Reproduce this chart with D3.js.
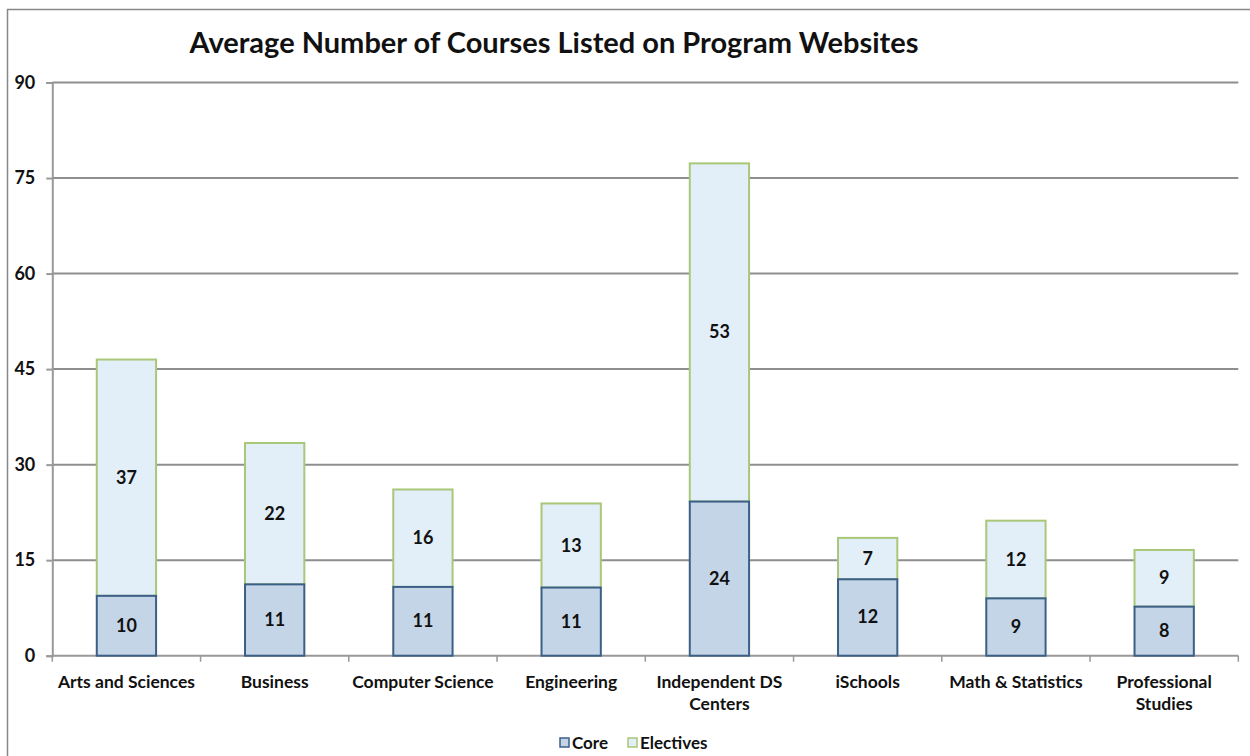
<!DOCTYPE html>
<html>
<head>
<meta charset="utf-8">
<script src="https://cdn.jsdelivr.net/npm/d3@7"></script>
<style>
  body { margin: 0; background: #fff; }
  text { font-family: Lato, "Open Sans", sans-serif; font-weight: bold; fill: #111; }
</style>
</head>
<body>
<div class="chart"></div>
<script>
var categories = ["Arts and Sciences", "Business", "Computer Science", "Engineering",
  "Independent DS Centers", "iSchools", "Math & Statistics", "Professional Studies"];
var coreValues = [9.4, 11.2, 10.8, 10.7, 24.2, 12.0, 9.0, 7.7];
var electiveValues = [37.1, 22.2, 15.3, 13.2, 53.1, 6.5, 12.2, 8.9];
var coreLabels = ["10", "11", "11", "11", "24", "12", "9", "8"];
var electiveLabels = ["37", "22", "16", "13", "53", "7", "12", "9"];
var yTicks = [0, 15, 30, 45, 60, 75, 90];

var svgWidth = 1250;
var svgHeight = 756;
var margin = { top: 82.5, right: 12, bottom: 100, left: 52.3 };
var width = 1238.3 - margin.left;
var height = 655.7 - margin.top;

var svg = d3.select(".chart")
  .append("svg")
  .attr("width", svgWidth)
  .attr("height", svgHeight);

// outer frame
svg.append("rect")
  .attr("x", 7.5).attr("y", 9.5)
  .attr("width", 1260).attr("height", 760)
  .attr("fill", "none")
  .attr("stroke", "#888")
  .attr("stroke-width", 1.5);

svg.append("text")
  .attr("x", 554)
  .attr("y", 53)
  .attr("text-anchor", "middle")
  .attr("font-size", 29)
  .text("Average Number of Courses Listed on Program Websites");

var chartGroup = svg.append("g")
  .attr("transform", `translate(${margin.left}, ${margin.top})`);

var yScale = d3.scaleLinear().domain([0, 90]).range([height, 0]);

var xBand = d3.scaleBand().domain(categories).range([0, width]).padding(0);
var xBar = d3.scaleBand().domain(categories).range([0, width])
  .paddingInner(0.6).paddingOuter(0.3);

// gridlines
chartGroup.append("g")
  .selectAll("line")
  .data(yTicks.filter(d => d > 0))
  .enter()
  .append("line")
  .attr("x1", 0)
  .attr("x2", width)
  .attr("y1", d => yScale(d))
  .attr("y2", d => yScale(d))
  .attr("stroke", "#8e8e8e")
  .attr("stroke-width", 2);

// y axis
var leftAxis = d3.axisLeft(yScale).tickValues(yTicks).tickSize(6).tickPadding(12);
var yAxisG = chartGroup.append("g").call(leftAxis);
yAxisG.select(".domain").attr("stroke", "#999").attr("stroke-width", 2);
yAxisG.selectAll(".tick line").attr("stroke", "#999").attr("stroke-width", 2);
yAxisG.selectAll(".tick text")
  .attr("font-size", 18)
  .attr("font-family", "Lato, sans-serif")
  .attr("fill", "#111")
  .attr("x", -17);

// x axis with ticks at band edges
var xAxisG = chartGroup.append("g").attr("transform", `translate(0, ${height})`);
xAxisG.append("line")
  .attr("x1", 0).attr("x2", width)
  .attr("stroke", "#999").attr("stroke-width", 2);
xAxisG.selectAll(".edge")
  .data(categories.concat(["end"]))
  .enter()
  .append("line")
  .attr("x1", (d, i) => i < categories.length ? xBand(d) : width)
  .attr("x2", (d, i) => i < categories.length ? xBand(d) : width)
  .attr("y1", 0).attr("y2", 6)
  .attr("stroke", "#999").attr("stroke-width", 1.5);

var catText = xAxisG.selectAll(".cat")
  .data(categories)
  .enter()
  .append("text")
  .attr("text-anchor", "middle")
  .attr("font-size", 17.5)
  .attr("y", 32);
catText.each(function(d) {
  var lines = d === "Independent DS Centers" ? ["Independent DS", "Centers"]
    : d === "Professional Studies" ? ["Professional", "Studies"] : [d];
  var t = d3.select(this);
  lines.forEach(function(l, i) {
    t.append("tspan")
      .attr("x", xBand(d) + xBand.bandwidth() / 2)
      .attr("dy", i === 0 ? 0 : 22)
      .text(l);
  });
});

// stacked bars
var bars = chartGroup.selectAll(".bar")
  .data(categories)
  .enter()
  .append("g");

bars.append("rect")
  .attr("x", d => xBar(d))
  .attr("width", xBar.bandwidth())
  .attr("y", (d, i) => yScale(coreValues[i] + electiveValues[i]))
  .attr("height", (d, i) => yScale(coreValues[i]) - yScale(coreValues[i] + electiveValues[i]))
  .attr("fill", "#e2eff9")
  .attr("stroke", "#a8c878")
  .attr("stroke-width", 2);

bars.append("rect")
  .attr("x", d => xBar(d))
  .attr("width", xBar.bandwidth())
  .attr("y", (d, i) => yScale(coreValues[i]))
  .attr("height", (d, i) => yScale(0) - yScale(coreValues[i]))
  .attr("fill", "#c4d5e8")
  .attr("stroke", "#3c5f86")
  .attr("stroke-width", 2);

bars.append("text")
  .attr("x", d => xBar(d) + xBar.bandwidth() / 2)
  .attr("y", (d, i) => yScale(coreValues[i] / 2) + 6)
  .attr("text-anchor", "middle")
  .attr("font-size", 18)
  .text((d, i) => coreLabels[i]);

bars.append("text")
  .attr("x", d => xBar(d) + xBar.bandwidth() / 2)
  .attr("y", (d, i) => yScale(coreValues[i] + electiveValues[i] / 2) + 6)
  .attr("text-anchor", "middle")
  .attr("font-size", 18)
  .text((d, i) => electiveLabels[i]);

// legend
var legend = svg.append("g").attr("transform", "translate(560, 738)");
var legendItems = [
  { name: "Core", fill: "#c4d5e8", stroke: "#3c5f86", x: 0 },
  { name: "Electives", fill: "#e2eff9", stroke: "#a8c878", x: 68 }
];
legendItems.forEach(function(item) {
  legend.append("rect")
    .attr("x", item.x).attr("y", 0)
    .attr("width", 9).attr("height", 9)
    .attr("fill", item.fill)
    .attr("stroke", item.stroke)
    .attr("stroke-width", 1.5);
  legend.append("text")
    .attr("x", item.x + 12)
    .attr("y", 11)
    .attr("font-size", 17)
    .text(item.name);
});
</script>
</body>
</html>
